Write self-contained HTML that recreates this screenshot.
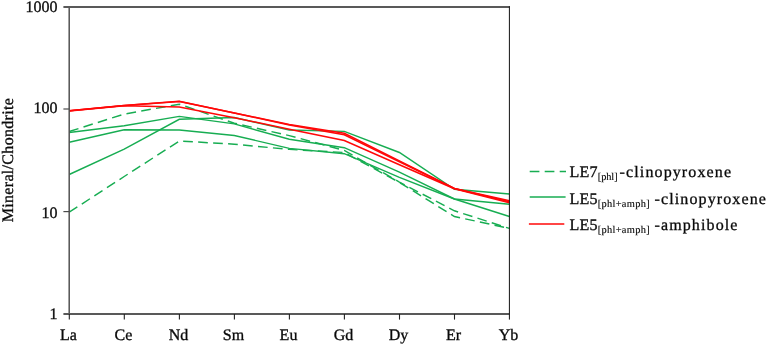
<!DOCTYPE html>
<html><head><meta charset="utf-8"><title>REE pattern</title>
<style>
html,body{margin:0;padding:0;background:#fff;}
body{width:767px;height:345px;overflow:hidden;}
svg{display:block;will-change:transform;}
text{font-family:"Liberation Serif",serif;fill:#0a0a0a;text-rendering:geometricPrecision;stroke:#0a0a0a;stroke-width:0.32px;}
text.sub{stroke-width:0.14px;}
</style></head><body>
<svg width="767" height="345" viewBox="0 0 767 345">
<rect width="767" height="345" fill="#fff"/>
<g fill="none" stroke="#17ad52" stroke-width="1.45" stroke-linejoin="miter">
<polyline points="69.2,131.5 124.2,114.1 179.3,104.2 234.3,123.2 289.3,135.6 344.3,150.4 399.4,182.1 454.4,210.8 509.4,228.4" stroke-dasharray="9.7 5.3"/>
<polyline points="69.2,212.2 124.2,176.5 179.3,141.0 234.3,144.2 289.3,149.4 344.3,152.5 399.4,182.4 454.4,216.5 509.4,228.4" stroke-dasharray="9.7 5.3"/>
<polyline points="69.2,132.5 124.2,125.8 179.3,116.4 234.3,123.9 289.3,139.2 344.3,147.7 399.4,172.2 454.4,199.0 509.4,204.2"/>
<polyline points="69.2,142.3 124.2,129.7 179.3,130.0 234.3,135.5 289.3,148.4 344.3,153.7 399.4,177.4 454.4,199.0 509.4,216.5"/>
<polyline points="69.2,174.5 124.2,149.1 179.3,119.3 234.3,117.5 289.3,130.0 344.3,131.4 399.4,152.5 454.4,189.3 509.4,194.0"/>
</g>
<g fill="none" stroke="#ff0808" stroke-width="1.55" stroke-linejoin="miter">
<polyline points="69.2,110.8 124.2,105.5 179.3,101.2 234.3,112.9 289.3,124.5 344.3,133.2 399.4,160.9 454.4,188.4 509.4,200.7"/>
<polyline points="69.2,110.8 124.2,105.5 179.3,101.5 234.3,113.1 289.3,124.9 344.3,134.8 399.4,161.7 454.4,188.4 509.4,201.7"/>
<polyline points="69.2,111.0 124.2,105.8 179.3,107.1 234.3,117.7 289.3,129.2 344.3,140.6 399.4,164.7 454.4,188.7 509.4,202.7"/>
</g>
<g stroke="#525252" stroke-width="1.5" fill="none">
<path d="M69.2 6.1 V314.59999999999997"/>
</g>
<g stroke="#595959" stroke-width="1.9" fill="none">
<path d="M63.4 314 H509.4"/>
<path d="M63.4 6.95 H509.4"/>
</g>
<path d="M509.4 6.1 V319.6" stroke="#111" stroke-width="1" fill="none"/>
<g stroke="#4a4a4a" stroke-width="1.2" fill="none">
<path d="M63.4 109.0 H69.2"/>
<path d="M63.4 211.6 H69.2"/>
</g>
<g stroke="#222" stroke-width="1.1" fill="none">
<path d="M69.3 313.9 V319.6"/>
<path d="M124.3 313.9 V319.6"/>
<path d="M179.4 313.9 V319.6"/>
<path d="M234.4 313.9 V319.6"/>
<path d="M289.4 313.9 V319.6"/>
<path d="M344.4 313.9 V319.6"/>
<path d="M399.5 313.9 V319.6"/>
<path d="M454.5 313.9 V319.6"/>
</g>
<g font-size="16" text-anchor="end">
<text x="57.5" y="12.2">1000</text>
<text x="57.5" y="113.2">100</text>
<text x="57.5" y="218.3">10</text>
<text x="57.5" y="319">1</text>
</g>
<g font-size="16" text-anchor="middle">
<text x="68.4" y="340.4">La</text>
<text x="123.4" y="340.4">Ce</text>
<text x="178.5" y="340.4">Nd</text>
<text x="233.5" y="340.4">Sm</text>
<text x="288.5" y="340.4">Eu</text>
<text x="343.5" y="340.4">Gd</text>
<text x="398.6" y="340.4">Dy</text>
<text x="453.6" y="340.4">Er</text>
<text x="508.6" y="340.4">Yb</text>
</g>
<text font-size="16" text-anchor="middle" transform="translate(12.6 160.2) rotate(-90)" textLength="124.2" lengthAdjust="spacing">Mineral/Chondrite</text>
<g fill="none" stroke-width="1.5">
<path d="M529.7 171.6 H566" stroke="#17ad52" stroke-dasharray="9.7 5.3"/>
<path d="M529.7 197.1 H565.6" stroke="#17ad52"/>
<path d="M528.9 224 H564.3" stroke="#ff0808"/>
</g>
<text x="569.6" y="177.0" font-size="16" letter-spacing="0.15">LE7</text><text x="597.8" y="180.0" class="sub" font-size="10.4" textLength="19.8" lengthAdjust="spacing">[phl]</text><text x="619.6" y="177.0" font-size="16" letter-spacing="1.12">-clinopyroxene</text>
<text x="569.6" y="204" font-size="16" letter-spacing="0.15">LE5</text><text x="597.8" y="207.0" class="sub" font-size="10.4" textLength="51.8" lengthAdjust="spacing">[phl+amph]</text><text x="654.5" y="204" font-size="16" letter-spacing="1.12">-clinopyroxene</text>
<text x="569.6" y="230.4" font-size="16" letter-spacing="0.15">LE5</text><text x="597.8" y="233.4" class="sub" font-size="10.4" textLength="51.8" lengthAdjust="spacing">[phl+amph]</text><text x="654.5" y="230.4" font-size="16" letter-spacing="1.12">-amphibole</text>
</svg></body></html>
